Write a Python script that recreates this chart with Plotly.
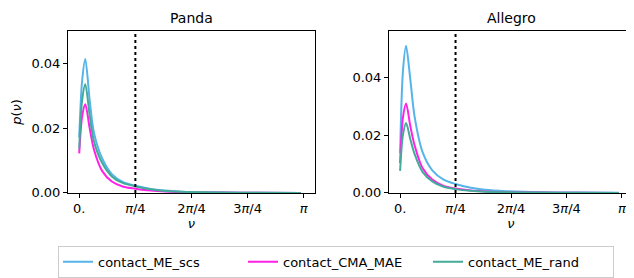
import numpy as np
import plotly.graph_objects as go
from plotly.subplots import make_subplots

# ---- data ----
nu = [0, 0.04, 0.085, 0.146, 0.205, 0.32, 0.456, 0.616, 0.785, 1.0, 1.2, 1.5, 2.0, 2.5, 3.1]

panda_ME_scs = [0.0172, 0.0345, 0.0414, 0.0287, 0.0187, 0.0107, 0.0058, 0.0033, 0.0022, 0.0012, 0.0007, 0.0003, 0.0001, 0.00005, 0.0]
panda_CMA_MAE = [0.0122, 0.0235, 0.0274, 0.0200, 0.0135, 0.0068, 0.0035, 0.0019, 0.0013, 0.0007, 0.0004, 0.0002, 0.0001, 0.00003, 0.0]
panda_ME_rand = [0.0137, 0.0285, 0.0336, 0.0240, 0.0160, 0.0093, 0.0051, 0.0030, 0.0020, 0.0011, 0.0006, 0.0003, 0.0001, 0.00005, 0.0]

allegro_ME_scs = [0.0137, 0.0420, 0.0509, 0.0390, 0.0265, 0.0140, 0.0078, 0.0046, 0.0031, 0.0018, 0.0011, 0.0006, 0.0002, 0.0001, 0.00003]
allegro_CMA_MAE = [0.0103, 0.0260, 0.0309, 0.0230, 0.0165, 0.0085, 0.0046, 0.0024, 0.0015, 0.0008, 0.0005, 0.0002, 0.0001, 0.00003, 0.0]
allegro_ME_rand = [0.0076, 0.0200, 0.0242, 0.0185, 0.0135, 0.0072, 0.0040, 0.0021, 0.0013, 0.0007, 0.0004, 0.0002, 0.0001, 0.00003, 0.0]

series_names = ["contact_ME_scs", "contact_CMA_MAE", "contact_ME_rand"]
colors = ["#56B4E9", "#FF22E6", "#44AA99"]
panels = ["Panda", "Allegro"]
panel_data = [
    [panda_ME_scs, panda_CMA_MAE, panda_ME_rand],
    [allegro_ME_scs, allegro_CMA_MAE, allegro_ME_rand],
]
y_ranges = [[0, 0.05], [0, 0.056]]
threshold = np.pi / 4
tick_vals = [0, np.pi / 4, 2 * np.pi / 4, 3 * np.pi / 4, np.pi]
tick_text = ["0.", "<i>π</i>/4", "2<i>π</i>/4", "3<i>π</i>/4", "<i>π</i>"]
y_tick_vals = [0, 0.02, 0.04]
y_tick_text = ["0.00", "0.02", "0.04"]

FONT = "DejaVu Sans"
W, H = 626, 270  # page body has a margin
OX, OY = 8, 4

fig = make_subplots(rows=1, cols=2, horizontal_spacing=0.1)

for p, data in enumerate(panel_data):
    for s, vals in enumerate(data):
        fig.add_trace(
            go.Scatter(
                x=nu, y=vals, mode="lines", name=series_names[s],
                line=dict(color=colors[s], width=2, shape="spline", smoothing=0.8),
                showlegend=(p == 0), legendgroup=series_names[s],
            ),
            row=1, col=p + 1,
        )

domains_x = [[(68 - OX) / W, (315 - OX) / W], [(389 - OX) / W, (633 - OX) / W]]
ydom = [1 - (196 - OY) / H, 1 - (28 - OY) / H]

axis_common = dict(
    showline=True, linecolor="black", linewidth=1, mirror=True,
    ticks="outside", ticklen=4, tickwidth=1, tickcolor="black",
    showgrid=False, zeroline=False, automargin=False,
    tickfont=dict(family=FONT, size=13, color="black"),
)

for i in range(2):
    xa = "xaxis" if i == 0 else "xaxis2"
    ya = "yaxis" if i == 0 else "yaxis2"
    fig.layout[xa].update(
        domain=domains_x[i], range=[-0.157, np.pi + 0.157],
        tickvals=tick_vals, ticktext=tick_text,
        title=dict(text="<i>ν</i>", font=dict(family=FONT, size=13, color="black"), standoff=3),
        **axis_common,
    )
    fig.layout[ya].update(
        domain=ydom, range=y_ranges[i],
        tickvals=y_tick_vals, ticktext=y_tick_text,
        **axis_common,
    )
    xref = "x" if i == 0 else "x2"
    yref = "y domain" if i == 0 else "y2 domain"
    fig.add_shape(type="line", x0=threshold, x1=threshold, y0=0, y1=1,
                  xref=xref, yref=yref,
                  line=dict(color="black", width=2, dash="dot"))
    fig.add_annotation(text=panels[i], x=sum(domains_x[i]) / 2, y=ydom[1],
                       xref="paper", yref="paper", xanchor="center", yanchor="bottom",
                       yshift=3, showarrow=False,
                       font=dict(family=FONT, size=14, color="black"))

fig.layout.yaxis.update(title=dict(text="<i>p</i>(<i>ν</i>)",
                                   font=dict(family=FONT, size=13, color="black"), standoff=6))

fig.update_layout(
    width=W, height=H,
    margin=dict(l=0, r=0, t=0, b=0),
    paper_bgcolor="white", plot_bgcolor="white",
    legend=dict(
        orientation="h", x=(58 - OX) / W, xanchor="left", y=1 - (251 - OY) / H, yanchor="top",
        bordercolor="#cccccc", borderwidth=1,
        font=dict(family=FONT, size=13, color="black"),
        itemwidth=30, tracegroupgap=0,
        entrywidth=140, entrywidthmode="pixels",
    ),
)

fig.write_html("out.html")
